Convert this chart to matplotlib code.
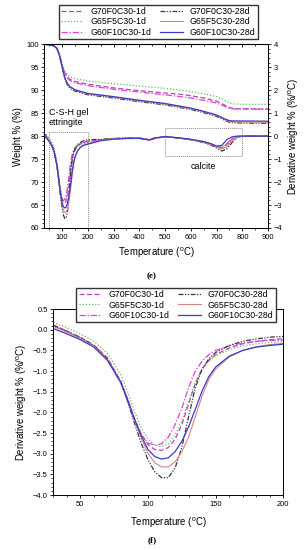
import matplotlib.pyplot as plt
from matplotlib.ticker import MultipleLocator

plt.rcParams['font.family'] = ['Liberation Sans', 'DejaVu Sans']
plt.rcParams['mathtext.fontset'] = 'custom'
plt.rcParams['mathtext.rm'] = 'Liberation Sans'

labels = ['G70F0C30-1d', 'G65F5C30-1d', 'G60F10C30-1d',
          'G70F0C30-28d', 'G65F5C30-28d', 'G60F10C30-28d']
colors = ['#b548b5', '#66bb66', '#e040e0', '#3a3a3a', '#d98585', '#3b3bc8']
styles = [(0, (4, 2)), (0, (1, 1.5)), (0, (5, 1.5, 1, 1.5)),
          (0, (4, 1.2, 1, 1.2, 1, 1.2)), '-', '-']
widths = [0.9, 0.9, 0.9, 0.9, 0.8, 0.9]

# TGA weight (%) vs temperature
T_w = [30, 50, 70, 80, 90, 100, 110, 120, 130, 150, 200, 300, 400, 500, 560,
       600, 650, 700, 730, 750, 770, 800, 900]
w_g70_1d = [100, 99.9, 99.6, 99.1, 97.6, 95.5, 93.8, 92.9, 92.4, 91.9, 91.3, 90.5,
            89.9, 89.4, 89.1, 88.8, 88.3, 87.6, 86.8, 86.2, 86.0, 85.95, 85.9]
w_g65_1d = [100, 99.9, 99.6, 99.2, 97.8, 95.8, 94.2, 93.4, 92.9, 92.5, 92.0, 91.4,
            90.9, 90.4, 90.0, 89.7, 89.2, 88.6, 87.8, 87.2, 87.0, 86.95, 86.9]
w_g60_1d = [100, 99.9, 99.6, 99.1, 97.6, 95.5, 93.7, 92.7, 92.1, 91.6, 91.0, 90.2,
            89.6, 89.0, 88.6, 88.3, 87.8, 87.2, 86.5, 86.0, 85.9, 85.9, 85.85]
w_g70_28d = [100, 99.9, 99.6, 99.1, 97.5, 95.0, 92.6, 91.2, 90.4, 89.8, 89.0, 88.3,
             87.5, 86.8, 86.2, 85.8, 85.1, 84.3, 83.5, 83.0, 82.9, 82.85, 82.8]
w_g65_28d = [100, 99.9, 99.6, 99.1, 97.5, 95.1, 92.8, 91.5, 90.7, 90.0, 89.2, 88.5,
             87.7, 87.0, 86.4, 86.0, 85.3, 84.5, 83.7, 83.2, 83.1, 83.05, 83.0]
w_g60_28d = [100, 99.9, 99.6, 99.1, 97.5, 95.1, 92.8, 91.5, 90.8, 90.1, 89.3, 88.6,
             87.8, 87.1, 86.5, 86.1, 85.4, 84.6, 83.8, 83.35, 83.3, 83.3, 83.25]

# DTG (%/oC) 30-200 oC
T_d = [30, 40, 50, 60, 70, 80, 85, 90, 95, 100, 105, 110, 115, 120, 125, 130, 135,
       140, 145, 150, 160, 170, 180, 190, 200]
d_g70_1d = [0.12, -0.03, -0.18, -0.37, -0.68, -1.25, -1.68, -2.15, -2.52, -2.78, -2.9,
            -2.92, -2.85, -2.65, -2.3, -1.8, -1.3, -0.95, -0.74, -0.6, -0.44, -0.34,
            -0.28, -0.24, -0.22]
d_g65_1d = [0.18, 0.05, -0.1, -0.28, -0.57, -1.1, -1.5, -1.98, -2.37, -2.65, -2.79,
            -2.83, -2.76, -2.55, -2.2, -1.72, -1.25, -0.95, -0.76, -0.63, -0.48, -0.39,
            -0.34, -0.31, -0.29]
d_g60_1d = [0.1, -0.04, -0.2, -0.4, -0.72, -1.3, -1.74, -2.2, -2.55, -2.74, -2.8,
            -2.76, -2.6, -2.3, -1.9, -1.4, -1.0, -0.76, -0.6, -0.5, -0.39, -0.32,
            -0.28, -0.26, -0.25]
d_g70_28d = [0.1, -0.04, -0.19, -0.38, -0.7, -1.28, -1.74, -2.26, -2.75, -3.15, -3.44,
             -3.58, -3.58, -3.35, -2.85, -2.1, -1.4, -0.95, -0.7, -0.55, -0.38, -0.28,
             -0.22, -0.18, -0.16]
d_g65_28d = [0.08, -0.06, -0.21, -0.4, -0.72, -1.27, -1.7, -2.18, -2.62, -3.0, -3.22,
             -3.32, -3.32, -3.2, -2.95, -2.6, -2.1, -1.6, -1.2, -0.95, -0.66, -0.5,
             -0.41, -0.36, -0.33]
d_g60_28d = [0.03, -0.1, -0.24, -0.42, -0.74, -1.28, -1.7, -2.16, -2.57, -2.9, -3.07,
             -3.13, -3.1, -2.95, -2.7, -2.35, -1.92, -1.48, -1.13, -0.9, -0.64, -0.5,
             -0.42, -0.38, -0.35]

# DTG continuation 250-900 oC (top panel only)
T_ext = [250, 300, 350, 400, 420, 440, 460, 500, 550, 600, 650, 680, 700, 720, 740,
         760, 780, 800, 850, 900]
e_g70_1d = [-0.16, -0.12, -0.1, -0.1, -0.14, -0.17, -0.1, -0.03, -0.08, -0.15, -0.25,
            -0.35, -0.45, -0.5, -0.35, -0.12, -0.02, 0.0, 0.0, 0.0]
e_g65_1d = [-0.18, -0.13, -0.1, -0.1, -0.13, -0.16, -0.1, -0.03, -0.07, -0.14, -0.23,
            -0.33, -0.42, -0.48, -0.4, -0.18, -0.03, 0.0, 0.0, 0.0]
e_g60_1d = [-0.17, -0.12, -0.1, -0.1, -0.14, -0.17, -0.1, -0.03, -0.08, -0.15, -0.25,
            -0.36, -0.46, -0.5, -0.33, -0.1, -0.02, 0.0, 0.0, 0.0]
e_g70_28d = [-0.14, -0.1, -0.08, -0.08, -0.13, -0.16, -0.08, -0.02, -0.08, -0.16,
             -0.28, -0.4, -0.52, -0.65, -0.55, -0.28, -0.06, 0.0, 0.0, 0.0]
e_g65_28d = [-0.18, -0.12, -0.09, -0.08, -0.13, -0.16, -0.08, -0.02, -0.08, -0.15,
             -0.26, -0.37, -0.48, -0.56, -0.46, -0.2, -0.04, 0.0, 0.0, 0.0]
e_g60_28d = [-0.2, -0.13, -0.1, -0.09, -0.13, -0.16, -0.08, -0.02, -0.07, -0.14,
             -0.24, -0.34, -0.44, -0.4, -0.15, -0.03, 0.0, 0.0, 0.0, 0.0]

weights = [w_g70_1d, w_g65_1d, w_g60_1d, w_g70_28d, w_g65_28d, w_g60_28d]
dtgs = [d_g70_1d, d_g65_1d, d_g60_1d, d_g70_28d, d_g65_28d, d_g60_28d]
exts = [e_g70_1d, e_g65_1d, e_g60_1d, e_g70_28d, e_g65_28d, e_g60_28d]

tick_fs = 5.4
lab_fs = 6.9
leg_fs = 6.3
temp_label = 'Temperature ($^\\mathrm{o}$C)'
dtg_label = 'Derivative weight % (%/$^\\mathrm{o}$C)'

fig = plt.figure(figsize=(3.04, 5.5), dpi=100)

# ---------- (e) TGA + DTG ----------
ax1 = fig.add_axes([0.145, 0.5855, 0.737, 0.334])
ax1b = ax1.twinx()
handles = []
for w, d, e, lab, c, ls, lw in zip(weights, dtgs, exts, labels, colors, styles, widths):
    h, = ax1.plot(T_w, w, color=c, linestyle=ls, linewidth=lw, label=lab)
    ax1b.plot(T_d + T_ext, d + e, color=c, linestyle=ls, linewidth=lw)
    handles.append(h)

ax1.set_xlim(30, 900)
ax1.set_ylim(60, 100)
ax1b.set_ylim(-4, 4)
ax1.xaxis.set_major_locator(MultipleLocator(100))
ax1.xaxis.set_minor_locator(MultipleLocator(50))
ax1.yaxis.set_major_locator(MultipleLocator(5))
ax1.yaxis.set_minor_locator(MultipleLocator(1))
ax1b.yaxis.set_major_locator(MultipleLocator(1))
ax1b.yaxis.set_minor_locator(MultipleLocator(0.2))
ax1.tick_params(which='major', length=2.5, width=0.6, labelsize=tick_fs, pad=1.5)
ax1.tick_params(which='minor', length=1.5, width=0.5)
ax1b.tick_params(which='major', length=2.5, width=0.6, labelsize=tick_fs, pad=1.5)
ax1b.tick_params(which='minor', length=1.5, width=0.5)
top1 = ax1.secondary_xaxis('top')
top1.xaxis.set_major_locator(MultipleLocator(100))
top1.xaxis.set_minor_locator(MultipleLocator(50))
top1.tick_params(which='both', direction='in', labeltop=False, width=0.6, length=2.5)
top1.tick_params(which='minor', length=1.5)
ax1.set_xlabel(temp_label, fontsize=lab_fs, labelpad=4)
ax1.set_ylabel('Weight % (%)', fontsize=lab_fs, labelpad=2)
ax1b.set_ylabel(dtg_label, fontsize=lab_fs, labelpad=3)
for a in (ax1, ax1b):
    for s in a.spines.values():
        s.set_linewidth(0.7)

# dashed regions
box_style = dict(color='#8a8a8a', linestyle=(0, (1, 1)), linewidth=0.7)
ax1b.plot([50, 200, 200, 50, 50], [-4, -4, 0.2, 0.2, -4], **box_style)
ax1b.plot([500, 800, 800, 500, 500], [-0.88, -0.88, 0.37, 0.37, -0.88], **box_style)
ax1.text(48, 85.2, 'C-S-H gel', fontsize=6.4, va='center', ha='left')
ax1.text(48, 83.0, 'ettringite', fontsize=6.4, va='center', ha='left')
ax1.text(650, 73.3, 'calcite', fontsize=6.4, va='center', ha='center')

ax1.legend(handles=handles, ncol=2, fontsize=leg_fs, loc='upper center',
           bbox_to_anchor=(0.52, 0.991), bbox_transform=fig.transFigure,
           frameon=True, fancybox=False, edgecolor='#333333', framealpha=1,
           handlelength=2.6, columnspacing=1.0, handletextpad=0.8,
           labelspacing=0.15, borderpad=0.25, borderaxespad=0)
ax1.get_legend().get_frame().set_linewidth(1.0)

fig.text(0.5, 1 - 276 / 550, '(e)', fontsize=6.5, ha='center', va='center',
         family=['Liberation Serif', 'DejaVu Serif'], fontweight='bold')

# ---------- (f) DTG zoom ----------
ax2 = fig.add_axes([0.1753, 0.1, 0.7567, 0.338])
for d, lab, c, ls, lw in zip(dtgs, labels, colors, styles, widths):
    ax2.plot(T_d, d, color=c, linestyle=ls, linewidth=lw, label=lab)
ax2.set_xlim(30, 200)
ax2.set_ylim(-4.0, 0.5)
ax2.xaxis.set_major_locator(MultipleLocator(50))
ax2.xaxis.set_minor_locator(MultipleLocator(10))
ax2.yaxis.set_major_locator(MultipleLocator(0.5))
ax2.yaxis.set_minor_locator(MultipleLocator(0.1))
ax2.tick_params(which='major', length=2.5, width=0.6, labelsize=tick_fs, pad=1.5)
ax2.tick_params(which='minor', length=1.5, width=0.5)
ax2.set_xlabel(temp_label, fontsize=lab_fs, labelpad=6)
ax2.set_ylabel(dtg_label, fontsize=lab_fs, labelpad=3)
for s in ax2.spines.values():
    s.set_linewidth(0.7)

ax2.legend(ncol=2, fontsize=leg_fs, loc='upper center',
           bbox_to_anchor=(0.579, 1 - 288 / 550), bbox_transform=fig.transFigure,
           frameon=True, fancybox=False, edgecolor='#333333', framealpha=1,
           handlelength=2.6, columnspacing=1.0, handletextpad=0.8,
           labelspacing=0.15, borderpad=0.25, borderaxespad=0)
ax2.get_legend().get_frame().set_linewidth(1.0)

fig.text(0.5, 1 - 540 / 550, '(f)', fontsize=6.5, ha='center', va='center',
         family=['Liberation Serif', 'DejaVu Serif'], fontweight='bold')

fig.savefig('out.png', dpi=100)
